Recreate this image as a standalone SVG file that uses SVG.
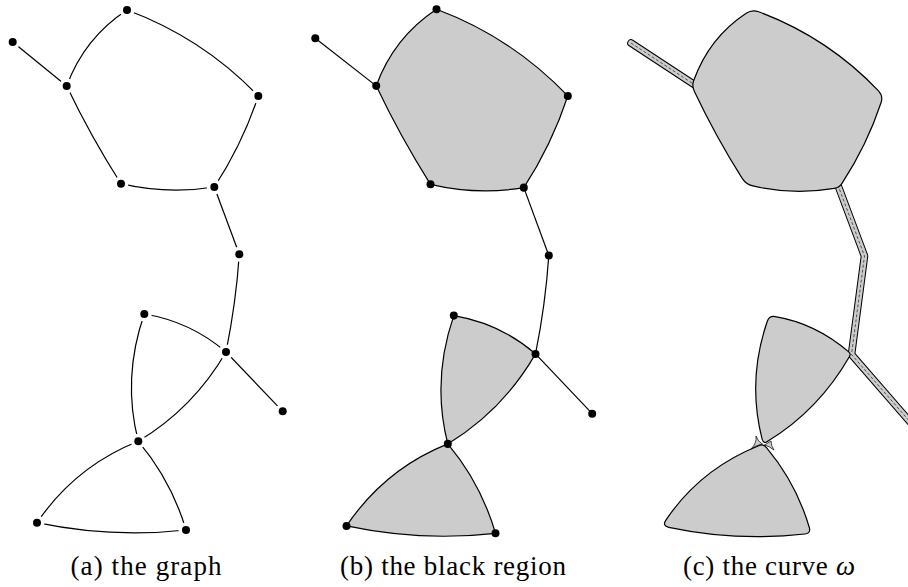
<svg xmlns="http://www.w3.org/2000/svg" width="908" height="587" viewBox="0 0 908 587">
<style>
.e{fill:none;stroke:#000;stroke-width:1.2}
.n{fill:#000}
.h{fill:#fff}
.r{fill:#ccc;stroke:#000;stroke-width:1.2;stroke-linejoin:round}
.to{fill:none;stroke:#000;stroke-width:7.6;stroke-linecap:round;stroke-linejoin:round}
.ti{fill:none;stroke:#ccc;stroke-width:5.6;stroke-linecap:round;stroke-linejoin:round}
.td{fill:none;stroke:#000;stroke-width:0.6;stroke-dasharray:3 2}
.lens{fill:#ccc;stroke:#000;stroke-width:0.7}
.cap{font-family:"Liberation Serif","Times New Roman",serif;font-size:27px;fill:#000}
</style>
<defs>
<path id="eBC" d="M12.7,42 L66.7,86"/>
<path id="eCA" d="M66.7,86 Q84.3,38 127,10"/>
<path id="eAD" d="M127,10 Q202.6,38 258.3,96"/>
<path id="eDF" d="M258.3,96 Q242.2,144.4 214.3,187"/>
<path id="eFE" d="M214.3,187 Q167.7,194.7 121,183.7"/>
<path id="eEC" d="M121,183.7 Q90.8,136.5 66.7,86"/>
<path id="eFG" d="M214.3,187 L239.3,254.3"/>
<path id="eGI" d="M239.3,254.3 Q236,303 226,352"/>
<path id="eHI" d="M144.3,314 Q190.5,321.6 226,352"/>
<path id="eHK" d="M144.3,314 Q122,378 138.3,441.3"/>
<path id="eIK" d="M226,352 Q193.5,408 138.3,441.3"/>
<path id="eIJ" d="M226,352 L282.7,411.3"/>
<path id="eKL" d="M138.3,441.3 Q75.2,466.4 37,522.7"/>
<path id="eKM" d="M138.3,441.3 Q171.5,480.7 186,530"/>
<path id="eLM" d="M37,522.7 Q111.5,538.4 186,530"/>
<path id="rPent" d="M127,10 Q202.6,38 258.3,96 Q242.2,144.4 214.3,187 Q167.7,194.7 121,183.7 Q90.8,136.5 66.7,86 Q84.3,38 127,10 Z"/>
<path id="rUp" d="M144.3,314 Q190.5,321.6 226,352 Q193.5,408 138.3,441.3 Q122,378 144.3,314 Z"/>
<path id="rLow" d="M138.3,441.3 Q75.2,466.4 37,522.7 Q111.5,538.4 186,530 Q171.5,480.7 138.3,441.3 Z"/>
</defs>

<!-- Panel (a): the graph -->
<g id="panel-a">
<g id="a-connectors" class="e">
<use href="#eBC"/><use href="#eCA"/><use href="#eAD"/><use href="#eDF"/><use href="#eFE"/><use href="#eEC"/>
<use href="#eFG"/><use href="#eGI"/><use href="#eHI"/><use href="#eHK"/><use href="#eIK"/><use href="#eIJ"/>
<use href="#eKL"/><use href="#eKM"/><use href="#eLM"/>
</g>
<g id="a-A"><circle class="h" cx="127" cy="10" r="7.5"/><circle class="n" cx="127" cy="10" r="4"/></g>
<g id="a-B"><circle class="h" cx="12.7" cy="42" r="7.5"/><circle class="n" cx="12.7" cy="42" r="4"/></g>
<g id="a-C"><circle class="h" cx="66.7" cy="86" r="7.5"/><circle class="n" cx="66.7" cy="86" r="4"/></g>
<g id="a-D"><circle class="h" cx="258.3" cy="96" r="7.5"/><circle class="n" cx="258.3" cy="96" r="4"/></g>
<g id="a-E"><circle class="h" cx="121" cy="183.7" r="7.5"/><circle class="n" cx="121" cy="183.7" r="4"/></g>
<g id="a-F"><circle class="h" cx="214.3" cy="187" r="7.5"/><circle class="n" cx="214.3" cy="187" r="4"/></g>
<g id="a-G"><circle class="h" cx="239.3" cy="254.3" r="7.5"/><circle class="n" cx="239.3" cy="254.3" r="4"/></g>
<g id="a-H"><circle class="h" cx="144.3" cy="314" r="7.5"/><circle class="n" cx="144.3" cy="314" r="4"/></g>
<g id="a-I"><circle class="h" cx="226" cy="352" r="7.5"/><circle class="n" cx="226" cy="352" r="4"/></g>
<g id="a-J"><circle class="h" cx="282.7" cy="411.3" r="7.5"/><circle class="n" cx="282.7" cy="411.3" r="4"/></g>
<g id="a-K"><circle class="h" cx="138.3" cy="441.3" r="7.5"/><circle class="n" cx="138.3" cy="441.3" r="4"/></g>
<g id="a-L"><circle class="h" cx="37" cy="522.7" r="7.5"/><circle class="n" cx="37" cy="522.7" r="4"/></g>
<g id="a-M"><circle class="h" cx="186" cy="530" r="7.5"/><circle class="n" cx="186" cy="530" r="4"/></g>
<text class="cap" x="146" y="575" text-anchor="middle" textLength="151" lengthAdjust="spacing">(a) the graph</text>
</g>

<!-- Panel (b): the black region -->
<g id="panel-b">
<g transform="matrix(1 0 0 1.0077 309.5 -0.8)">
<g id="b-regions" class="r">
<use href="#rPent"/><use href="#rUp"/><use href="#rLow"/>
</g>
<g id="b-connectors" class="e">
<path d="M5.8,38.8 L66.7,86"/>
<use href="#eFG"/><use href="#eGI"/><use href="#eIJ"/>
</g>
<g id="b-A"><circle class="n" cx="127" cy="10" r="4"/></g>
<g id="b-B"><circle class="n" cx="5.8" cy="38.8" r="4"/></g>
<g id="b-C"><circle class="n" cx="66.7" cy="86" r="4"/></g>
<g id="b-D"><circle class="n" cx="258.3" cy="96" r="4"/></g>
<g id="b-E"><circle class="n" cx="121" cy="183.7" r="4"/></g>
<g id="b-F"><circle class="n" cx="214.3" cy="187" r="4"/></g>
<g id="b-G"><circle class="n" cx="239.3" cy="254.3" r="4"/></g>
<g id="b-H"><circle class="n" cx="144.3" cy="314" r="4"/></g>
<g id="b-I"><circle class="n" cx="226" cy="352" r="4"/></g>
<g id="b-J"><circle class="n" cx="282.7" cy="411.3" r="4"/></g>
<g id="b-K"><circle class="n" cx="138.3" cy="441.3" r="4"/></g>
<g id="b-L"><circle class="n" cx="37" cy="522.7" r="4"/></g>
<g id="b-M"><circle class="n" cx="186" cy="530" r="4"/></g>
</g>
<text class="cap" x="453" y="575" text-anchor="middle" textLength="226" lengthAdjust="spacing">(b) the black region</text>
</g>

<!-- Panel (c): the curve omega -->
<g id="panel-c">
<g id="c-tubes">
<path class="to" d="M631,43 L698,87"/>
<path class="to" d="M836,180 L864.5,256 L851.5,354.5 L925,439"/>
<path class="ti" d="M631,43 L698,87"/>
<path class="ti" d="M836,180 L864.5,256 L851.5,354.5 L925,439"/>
<path class="td" d="M631,43 L698,87"/>
<path class="td" d="M836,180 L864.5,256 L851.5,354.5 L925,439"/>
</g>
<g id="c-pinch">
<path class="lens" d="M756,436 Q758,442 762.5,444 Q756,445 751,449 Q757,443 756,436 Z"/>
<path class="lens" d="M771,441 Q767,443.5 764.5,445 Q769,446 774,450 Q771,446 771,441 Z"/>
</g>
<g id="c-regions" class="r">
<path id="c-pent" d="M758.6,11.7 Q827.6,37.5 878.5,90.8 Q883.3,95.9 881.1,102.5 Q867.2,144.7 842,183.4 Q839.3,187.6 834.4,188.4 Q792.7,195.4 752.8,185.9 Q746,184.3 742.2,178.4 Q715.8,136.8 694.3,91.3 Q691.7,85.9 693.8,80.3 Q709.3,37.5 746.2,13.2 Q752,9.3 758.6,11.7 Z"/>
<path id="c-up" d="M775.2,316.6 Q815.5,323.3 848.7,351.9 Q851,353.9 849.5,356.5 Q818.5,410.4 767.6,441.3 Q764,444.5 762.1,439.1 Q747,380.1 767.3,321.3 Q769.3,315.6 775.2,316.6 Z"/>
<path id="c-low" d="M758.7,445.8 Q700.2,469.2 665.9,520.1 Q662,525.9 668.8,527.3 Q736.5,541.7 805,534 Q811,533.3 809.3,527.5 Q796.5,483.6 766.5,447.7 Q763.3,443.2 758.7,445.8 Z"/>
</g>
<text class="cap" x="769" y="575" text-anchor="middle" textLength="172" lengthAdjust="spacing">(c) the curve <tspan font-style="italic">ω</tspan></text>
</g>
</svg>
